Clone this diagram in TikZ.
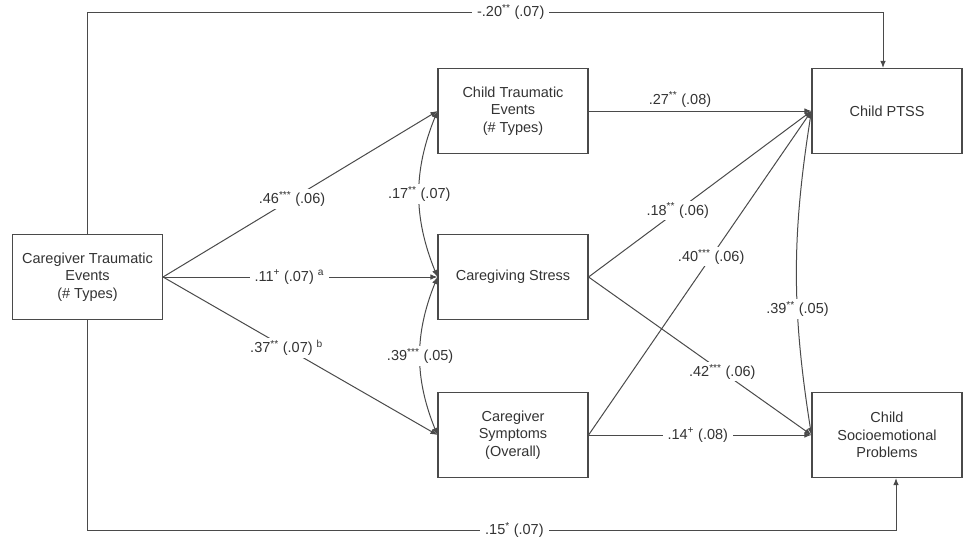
\documentclass[tikz,border=0pt]{standalone}
\usepackage{fontspec}
\setmainfont{Liberation Sans}
\usepackage{xcolor}
\usepackage{tikz}
\usetikzlibrary{arrows.meta}
\definecolor{linegray}{HTML}{4A4A4A}
\definecolor{textgray}{HTML}{333333}
\tikzstyle{box} = [rectangle,
minimum width=150pt,
minimum height=85pt,
inner sep=0pt,
align=center,
draw=linegray,
line width=1.1pt,
text=textgray,
font=\fontsize{14.5}{17.5}\selectfont]
\tikzstyle{lbl} = [fill=white,
inner xsep=5pt,
inner ysep=2pt,
text=textgray,
font=\fontsize{14.5}{17}\selectfont]
\tikzstyle{arrow} = [draw=linegray, line width=1pt, ->, >={Latex[length=7pt, width=5.5pt]}]
\tikzstyle{corr} = [draw=linegray, line width=1pt, <->, >={Latex[length=7pt, width=5.5pt]}]

\begin{document}
\begin{tikzpicture}[x=1pt, y=-1pt]
\useasboundingbox (0,0) rectangle (963,542);
\node (cgev) [box] at (87.5,277) {Caregiver Traumatic\\Events\\(\# Types)};
\node (chev) [box] at (513,111) {Child Traumatic\\Events\\(\# Types)};
\node (stress) [box] at (513,277) {Caregiving Stress};
\node (symp) [box] at (513,435) {Caregiver\\Symptoms\\(Overall)};
\node (ptss) [box] at (887,111) {Child PTSS};
\node (socio) [box] at (887,435) {Child\\Socioemotional\\Problems};
\coordinate (topleft) at (87.5,12);
\coordinate (botleft) at (87.5,530);

% caregiver events to mediators
\draw [arrow] (cgev.east) -- node[lbl, pos=0.47] {.46\textsuperscript{***} (.06)} (chev.west);
\draw [arrow] (cgev.east) -- node[lbl, pos=0.46] {.11\textsuperscript{+} (.07) \textsuperscript{a}} (stress.west);
\draw [arrow] (cgev.east) -- node[lbl, pos=0.45] {.37\textsuperscript{**} (.07) \textsuperscript{b}} (symp.west);
\draw [corr] (chev.west) to[bend right=22] node[lbl] {.17\textsuperscript{**} (.07)} (stress.west);
\draw [corr] (stress.west) to[bend right=22] node[lbl] {.39\textsuperscript{***} (.05)} (symp.west);

% mediators to outcomes
\draw [arrow] (chev.east) -- node[anchor=south, text=textgray, font=\fontsize{14.5}{17}\selectfont, pos=0.41] {.27\textsuperscript{**} (.08)} (ptss.west);
\draw [arrow] (stress.east) -- node[lbl, pos=0.40] {.18\textsuperscript{**} (.06)} (ptss.west);
\draw [arrow] (stress.east) -- node[lbl, pos=0.60] {.42\textsuperscript{***} (.06)} (socio.west);
\draw [arrow] (symp.east) -- node[lbl, pos=0.55] {.40\textsuperscript{***} (.06)} (ptss.west);
\draw [arrow] (symp.east) -- node[lbl, pos=0.49] {.14\textsuperscript{+} (.08)} (socio.west);
\draw [corr] (ptss.west) to[bend right=9] node[lbl, pos=0.62] {.39\textsuperscript{**} (.05)} (socio.west);

% direct paths
\draw [arrow] (cgev.north) -- (topleft) -| node[lbl, pos=0.266] {-.20\textsuperscript{**} (.07)} ([xshift=-4pt]ptss.north);
\draw [arrow] (cgev.south) -- (botleft) -| node[lbl, pos=0.264] {.15\textsuperscript{*} (.07)} ([xshift=9pt]socio.south);
\end{tikzpicture}
\end{document}
